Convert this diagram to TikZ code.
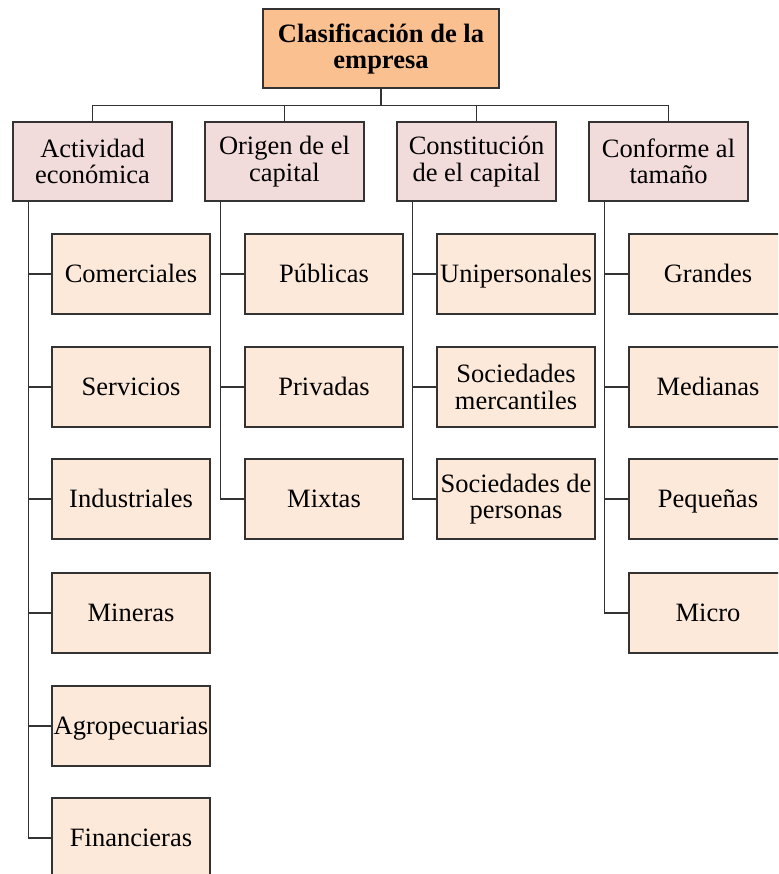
\documentclass[tikz,border=0pt]{standalone}
\usepackage{fontspec}
\setmainfont{Liberation Serif}
\definecolor{titlefill}{HTML}{FAC090}
\definecolor{catfill}{HTML}{F2DCDB}
\definecolor{itemfill}{HTML}{FDE9D9}
\definecolor{edge}{HTML}{333333}
\begin{document}
\begin{tikzpicture}[x=1pt,y=-1pt,
  box/.style={draw=edge, line width=1.1pt, inner sep=0pt, align=center,
    font=\fontsize{26.5}{26.5}\selectfont, text=black},
  titlebox/.style={box, fill=titlefill, minimum width=236pt, minimum height=79pt,
    font=\fontsize{26.5}{26}\selectfont\bfseries},
  catbox/.style={box, fill=catfill, minimum width=159pt, minimum height=79pt},
  itembox/.style={box, fill=itemfill, minimum width=158pt, minimum height=80pt},
  oneline/.style={itembox, text height=17pt, text depth=0pt},
  link/.style={draw=edge, line width=1.1pt}]
\clip (0,0) rectangle (778,874);
\fill[white] (0,0) rectangle (778,874);

% root
\node[titlebox] (root) at (381,48.5) {Clasificación de la\\empresa};

% categories
\node[catbox] (c1) at (92.5,161.5) {Actividad\\económica};
\node[catbox] (c2) at (284.5,161.5) {Origen de el\\capital};
\node[catbox] (c3) at (476.5,161.5) {Constitución\\de el capital};
\node[catbox] (c4) at (668.5,161.5) {Conforme al\\tamaño};

% items: economic activity
\node[oneline] (a1) at (131,274) {Comerciales};
\node[oneline] (a2) at (131,387) {Servicios};
\node[oneline] (a3) at (131,499) {Industriales};
\node[oneline] (a4) at (131,613) {Mineras};
\node[oneline] (a5) at (131,726) {Agropecuarias};
\node[oneline] (a6) at (131,838) {Financieras};

% items: origin of capital
\node[oneline] (b1) at (324,274) {Públicas};
\node[oneline] (b2) at (324,387) {Privadas};
\node[oneline] (b3) at (324,499) {Mixtas};

% items: constitution of capital
\node[oneline] (d1) at (516,274) {Unipersonales};
\node[itembox] (d2) at (516,387) {Sociedades\\mercantiles};
\node[itembox] (d3) at (516,499) {Sociedades de\\personas};

% items: size
\node[oneline] (e1) at (708,274) {Grandes};
\node[oneline] (e2) at (708,387) {Medianas};
\node[oneline] (e3) at (708,499) {Pequeñas};
\node[oneline] (e4) at (708,613) {Micro};

% root to categories
\coordinate (bus) at ([yshift=-17pt]root.south);
\draw[link] (root.south) -- (bus);
\foreach \c in {c1,c2,c3,c4}
  \draw[link] (bus) -| (\c.north);

% category trunks to items
\foreach \c/\items in {c1/{a1,a2,a3,a4,a5,a6}, c2/{b1,b2,b3}, c3/{d1,d2,d3}, c4/{e1,e2,e3,e4}}
  \foreach \i in \items
    \draw[link] ([xshift=16pt]\c.south west) |- (\i.west);
\end{tikzpicture}
\end{document}
